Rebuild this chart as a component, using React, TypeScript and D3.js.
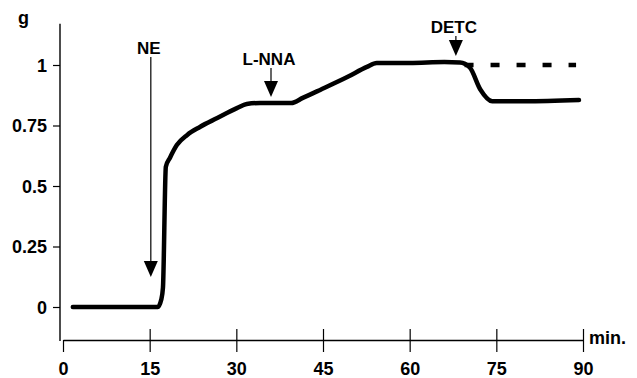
import React, { useEffect, useRef } from "react";
import * as d3 from "d3";

// ---- data ----
const timeMin = [1.7, 16.4, 17.0, 17.3, 17.8, 18.5, 19.7, 21.5, 23.7, 26.7, 30.1, 31.8, 34.1, 39.5, 41.5, 44.5, 49.2, 52.6, 54.3, 60, 66, 68.7, 70.4, 72.2, 74.3, 80, 89.3];
const tension = [0, 0, 0.03, 0.08, 0.58, 0.616, 0.669, 0.711, 0.744, 0.781, 0.822, 0.839, 0.843, 0.843, 0.864, 0.897, 0.95, 0.992, 1.008, 1.008, 1.012, 1.01, 0.99, 0.9, 0.85, 0.85, 0.855];
const dashedTime = [69.5, 88.8];
const dashedTension = [1.0, 1.0];
const xTicks = [0, 15, 30, 45, 60, 75, 90];
const yTicks = [0, 0.25, 0.5, 0.75, 1];
const yTickLabels = ["0", "0.25", "0.5", "0.75", "1"];
const arrowLabels = ["NE", "L-NNA", "DETC"];
const arrowTime = [15.2, 36, 68];
const arrowTop = [1.033, 0.988, 1.12];
const arrowTip = [0.124, 0.868, 1.037];
const yAxisExtent = [-0.14, 1.17];

const W = 637;
const H = 378;
const FONT = "'Liberation Sans', Arial, sans-serif";

export default function App() {
  const gx = useRef<SVGGElement>(null);
  const gy = useRef<SVGGElement>(null);

  const x = d3.scaleLinear().domain([0, 90]).range([63, 583]);
  const y = d3.scaleLinear().domain([0, 1]).range([307, 65]);
  const axisY = 340;
  const axisX = 60;

  useEffect(() => {
    if (gx.current) {
      const g = d3.select(gx.current);
      g.selectAll("*").remove();
      g.call(
        d3.axisBottom(x).tickValues(xTicks).tickSize(12).tickSizeOuter(0).tickFormat((d) => String(d))
      );
      g.select(".domain").attr("stroke", "#000").attr("stroke-width", 1.4);
      g.selectAll(".tick line")
        .attr("y1", (d: any) => (d === 0 ? 0 : -11))
        .attr("y2", 12)
        .attr("stroke", "#000")
        .attr("stroke-width", 1.2);
      g.selectAll(".tick text")
        .attr("y", 35)
        .attr("dy", null)
        .attr("font-size", 18)
        .attr("font-weight", "bold")
        .attr("font-family", FONT)
        .attr("fill", "#000");
    }
    if (gy.current) {
      const g = d3.select(gy.current);
      g.selectAll("*").remove();
      g.call(
        d3
          .axisLeft(y)
          .tickValues(yTicks)
          .tickSize(7)
          .tickSizeOuter(0)
          .tickFormat((d, i) => yTickLabels[i])
      );
      g.select(".domain").remove();
      g.selectAll(".tick line").attr("stroke", "#000").attr("stroke-width", 1.2);
      g.selectAll(".tick text")
        .attr("x", -13)
        .attr("dy", "0.36em")
        .attr("font-size", 18)
        .attr("font-weight", "bold")
        .attr("font-family", FONT)
        .attr("fill", "#000");
    }
  }, []);

  const pts = timeMin.map((t, i) => [t, tension[i]] as [number, number]);
  const line = d3
    .line<[number, number]>()
    .x((d) => x(d[0]))
    .y((d) => y(d[1]))
    .curve(d3.curveMonotoneX);
  const dashPts = dashedTime.map((t, i) => [t, dashedTension[i]] as [number, number]);

  return (
    <svg
      width={W}
      height={H}
      style={{ position: "absolute", left: 0, top: 0, background: "#fff" }}
    >
      <rect width={W} height={H} fill="#fff" />
      {/* y axis line */}
      <line
        x1={axisX}
        x2={axisX}
        y1={y(yAxisExtent[1])}
        y2={y(yAxisExtent[0])}
        stroke="#000"
        strokeWidth={1.4}
      />
      <g ref={gy} transform={`translate(${axisX},0)`} />
      <g ref={gx} transform={`translate(0,${axisY})`} />
      <text x={18} y={24} fontSize={18} fontWeight="bold" fontFamily={FONT}>
        g
      </text>
      <text x={589} y={344} fontSize={18} fontWeight="bold" fontFamily={FONT}>
        min.
      </text>

      {/* main trace */}
      <path d={line(pts) || ""} fill="none" stroke="#000" strokeWidth={4.5} strokeLinejoin="round" strokeLinecap="round" />
      {/* dashed control */}
      <path
        d={line(dashPts) || ""}
        fill="none"
        stroke="#000"
        strokeWidth={4.5}
        strokeDasharray="9,17"
      />

      {/* arrows */}
      {arrowLabels.map((lab, i) => {
        const ax = x(arrowTime[i]);
        const top = y(arrowTop[i]);
        const tip = y(arrowTip[i]);
        const headLen = 16;
        const headW = 7;
        return (
          <g key={lab}>
            <line x1={ax} x2={ax} y1={top} y2={tip - headLen + 2} stroke="#000" strokeWidth={1.2} />
            <path
              d={`M${ax - headW},${tip - headLen} L${ax + headW},${tip - headLen} L${ax},${tip} Z`}
              fill="#000"
            />
            <text
              x={ax - 2}
              y={top - 3}
              textAnchor="middle"
              fontSize={17}
              fontWeight="bold"
              fontFamily={FONT}
            >
              {lab}
            </text>
          </g>
        );
      })}
    </svg>
  );
}
